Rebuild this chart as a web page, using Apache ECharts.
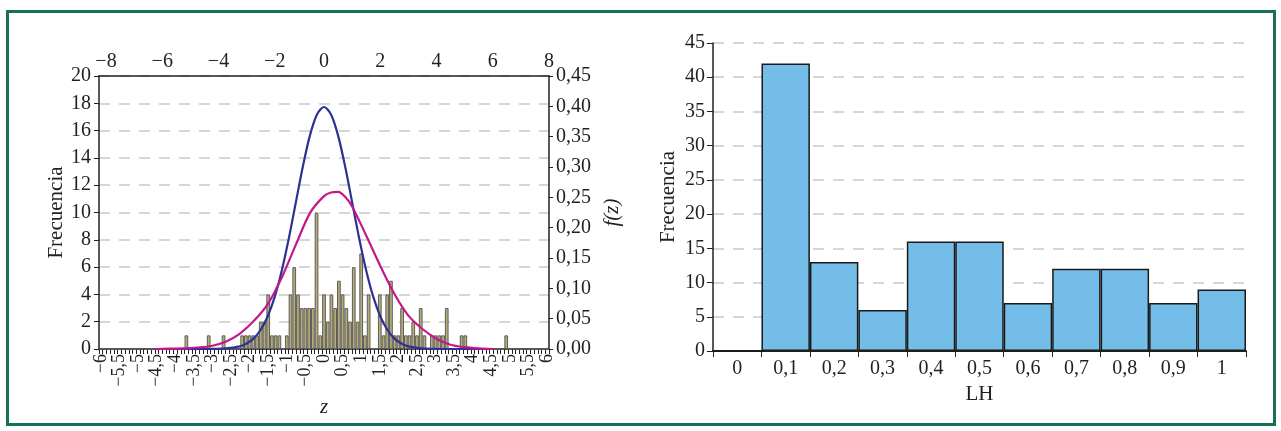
<!DOCTYPE html>
<html><head><meta charset="utf-8">
<script src="https://cdn.jsdelivr.net/npm/echarts@6/dist/echarts.min.js"></script>
<style>
html,body{margin:0;padding:0;background:#fff;}
#c{position:absolute;left:0;top:0;width:1281px;height:431px;}
#frame{position:absolute;left:6px;top:10px;width:1264px;height:410px;border:3px solid #17705a;pointer-events:none;}
</style>
</head><body><div id="c"></div><div id="frame"></div>
<script>
// ---- Left chart: histogram of z (bins of 0.1 from -6 to 6) ----
const zBinFirst = -6.0, zBinStep = 0.1, zBinCount = 121;
const zCounts = [
  0,0,0,0,0,0,0,0,0,0,
  0,0,0,0,0,0,0,0,0,0,
  0,0,0,1,0,0,0,0,0,1,
  0,0,0,1,0,0,0,0,1,1,
  1,1,1,2,2,4,1,1,1,0,
  1,4,6,4,3,3,3,3,10,1,
  4,2,4,3,5,4,3,2,6,2,
  7,1,4,0,0,4,1,4,5,1,
  1,3,1,1,2,1,3,1,0,1,
  1,1,1,3,0,0,0,1,1,0,
  0,0,0,0,0,0,0,0,0,1,
  0,0,0,0,0,0,0,0,0,0,0
];
// density curves (top axis z, right axis f(z))
const blueZ = [-6,-5,-4,-3.5,-3,-2.75,-2.5,-2.25,-2,-1.75,-1.5,-1.25,-1,-0.75,-0.5,-0.25,0,0.25,0.5,0.75,1,1.25,1.5,1.75,2,2.25,2.5,2.75,3,3.5,4,5,6];
const blueF = [0,0,0.0001,0.0009,0.0044,0.0091,0.0175,0.0317,0.054,0.0863,0.1295,0.1826,0.242,0.3011,0.3521,0.3867,0.3989,0.3867,0.3521,0.3011,0.242,0.1826,0.1295,0.0863,0.054,0.0317,0.0175,0.0091,0.0044,0.0009,0.0001,0,0];
const pinkZ = [-6,-5.5,-5,-4.5,-4,-3.5,-3,-2.5,-2,-1.5,-1,-0.5,0,0.25,0.5,0.75,1,1.5,2,2.5,3,3.5,4,4.5,5,5.5,6];
const pinkF = [0,0.0005,0.001,0.0025,0.005,0.012,0.025,0.046,0.074,0.118,0.172,0.224,0.252,0.258,0.259,0.251,0.235,0.187,0.137,0.091,0.055,0.033,0.017,0.007,0.003,0.001,0];

// ---- Right chart: histogram of LH ----
const lhCats = ['0','0,1','0,2','0,3','0,4','0,5','0,6','0,7','0,8','0,9','1'];
const lhCounts = [0,42,13,6,16,16,7,12,12,7,9];

const fmtNum = (v, d) => {
  let s = (d == null) ? String(Math.abs(v)) : Math.abs(v).toFixed(d);
  s = s.replace('.', ',');
  return (v < 0 ? '\u2212' : '') + s;
};
const zCats = [];
for (let i = 0; i < zBinCount; i++) {
  const v = Math.round((zBinFirst + i * zBinStep) * 10) / 10;
  zCats.push(fmtNum(v));
}
const zip = (a, b) => a.map((x, i) => [x, b[i]]);

const black = '#231f20';
const FONT = 'Liberation Serif';
const TICK = 20, NAME = 21;
const gridLine = {show:true, lineStyle:{type:[11,9], color:'#c9c9c9', width:1.5}};
const axLine = {show:true, onZero:false, lineStyle:{color:black, width:1.5}};

const chart = echarts.init(document.getElementById('c'), null, {renderer:'canvas'});
chart.setOption({
  animation:false,
  textStyle:{fontFamily:FONT, color:black},
  grid:[
    {left:99, top:76, width:450, height:273, outerBoundsMode:'none'},
    {left:713, top:43, width:533, height:308, outerBoundsMode:'none'}
  ],
  xAxis:[
    {gridIndex:0, type:'category', data:zCats, position:'bottom', boundaryGap:true,
     axisLine:axLine,
     axisTick:{show:true, interval:0, length:5, lineStyle:{color:black, width:1}},
     axisLabel:{interval:4, rotate:90, fontSize:18, margin:5, color:black, fontFamily:FONT,
       showMinLabel:true, showMaxLabel:true, hideOverlap:false},
     splitLine:{show:false},
     name:'z', nameLocation:'middle', nameGap:48,
     nameTextStyle:{fontStyle:'italic', fontSize:NAME, color:black, fontFamily:FONT}},
    {gridIndex:0, type:'value', position:'top', min:-8, max:8, interval:2,
     axisLine:axLine, axisTick:{show:false},
     axisLabel:{fontSize:TICK, margin:4, color:black, fontFamily:FONT,
       showMinLabel:true, showMaxLabel:true,
       formatter:v => v < 0 ? '{n|' + fmtNum(v) + '}' : fmtNum(v),
       rich:{n:{fontSize:TICK, fontFamily:FONT, color:black, padding:[0,0,0,14]}}},
     splitLine:{show:false}},
    {gridIndex:1, type:'category', data:lhCats, boundaryGap:true,
     axisLine:{show:true, lineStyle:{color:black, width:2}},
     axisTick:{show:true, interval:0, length:6, lineStyle:{color:black, width:1}},
     axisLabel:{fontSize:TICK, margin:8, color:black, fontFamily:FONT},
     splitLine:{show:false},
     name:'LH', nameLocation:'middle', nameGap:30,
     nameTextStyle:{fontSize:NAME, color:black, fontFamily:FONT}}
  ],
  yAxis:[
    {gridIndex:0, type:'value', position:'left', min:0, max:20, interval:2,
     axisLine:axLine, axisTick:{show:true, length:5, lineStyle:{color:black}},
     axisLabel:{fontSize:TICK, margin:8, color:black, fontFamily:FONT},
     splitLine:gridLine,
     name:'Frecuencia', nameLocation:'middle', nameRotate:90, nameGap:31,
     nameTextStyle:{fontSize:NAME, color:black, fontFamily:FONT}},
    {gridIndex:0, type:'value', position:'right', min:0, max:0.45, interval:0.05,
     axisLine:axLine, axisTick:{show:true, length:4, lineStyle:{color:black}},
     axisLabel:{fontSize:TICK, margin:7, color:black, fontFamily:FONT, formatter:v => fmtNum(v, 2)},
     splitLine:{show:false},
     name:'f(z)', nameLocation:'middle', nameRotate:90, nameGap:53,
     nameTextStyle:{fontStyle:'italic', fontSize:NAME, color:black, fontFamily:FONT}},
    {gridIndex:1, type:'value', position:'left', min:0, max:45, interval:5,
     axisLine:{show:true, lineStyle:{color:black, width:1.5}},
     axisTick:{show:true, length:6, lineStyle:{color:black}},
     axisLabel:{fontSize:TICK, margin:8, color:black, fontFamily:FONT},
     splitLine:gridLine,
     name:'Frecuencia', nameLocation:'middle', nameRotate:90, nameGap:34,
     nameTextStyle:{fontSize:NAME, color:black, fontFamily:FONT}}
  ],
  series:[
    {type:'bar', xAxisIndex:0, yAxisIndex:0, data:zCounts, barCategoryGap:'0%',
     itemStyle:{color:'#b5ac76', borderColor:'#5d5d5d', borderWidth:1}, z:2},
    {type:'line', xAxisIndex:1, yAxisIndex:1, data:zip(blueZ, blueF), smooth:0.3,
     showSymbol:false, symbol:'none', lineStyle:{color:'#2e3192', width:2.2}, z:5},
    {type:'line', xAxisIndex:1, yAxisIndex:1, data:zip(pinkZ, pinkF), smooth:0.3,
     showSymbol:false, symbol:'none', lineStyle:{color:'#c2188b', width:2.2}, z:6},
    {type:'bar', xAxisIndex:2, yAxisIndex:2, data:lhCounts, barCategoryGap:'0%',
     itemStyle:{color:'#74bde8', borderColor:'#1a1a1a', borderWidth:1.5}, z:2}
  ]
});
</script>
</body></html>
